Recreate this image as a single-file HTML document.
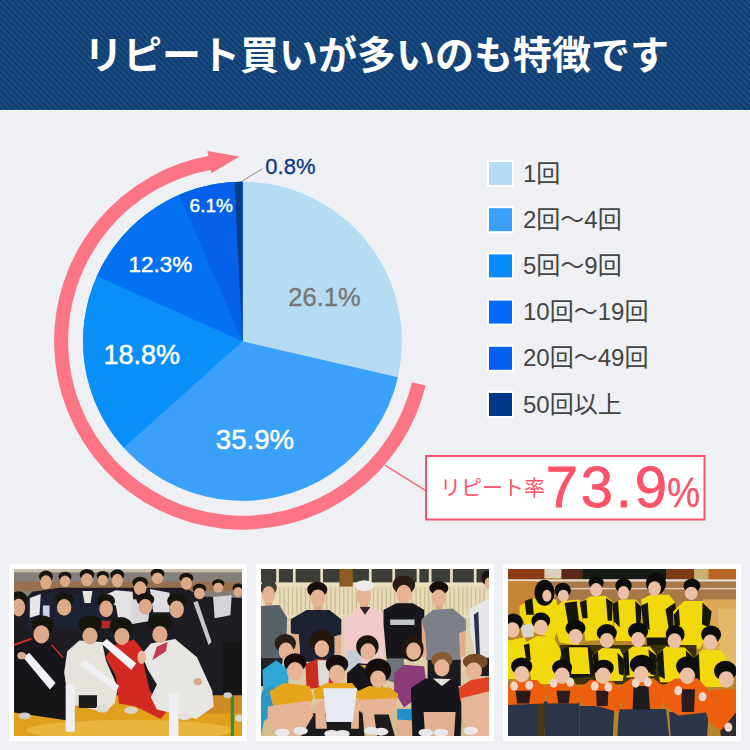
<!DOCTYPE html>
<html lang="ja"><head><meta charset="utf-8"><title>リピート買いが多いのも特徴です</title>
<style>
html,body{margin:0;padding:0}
body{width:750px;height:750px;overflow:hidden;background:#EEF0F4;font-family:"Liberation Sans","Noto Sans CJK JP",sans-serif;position:relative}
#hd{position:absolute;left:0;top:0;width:750px;height:110px;border-bottom:1px solid #FAFBFC;background:repeating-linear-gradient(45deg,#0F3E74 0,#0F3E74 2.12px,#1A4A7E 2.12px,#1A4A7E 4.243px)}
#hd h1{position:absolute;left:84px;top:34px;width:588px;height:44px;margin:0;font-size:39px;line-height:44px;font-weight:bold;color:#fff;white-space:nowrap;overflow:hidden;font-family:"Liberation Sans","Noto Sans CJK JP",sans-serif}
svg{position:absolute;left:0;top:0}
.t{position:absolute;white-space:nowrap;line-height:1;color:#fff}
ul.lg{position:absolute;left:523px;top:0;margin:0;padding:0;list-style:none}
ul.lg li{position:absolute;left:0;width:135px;height:26px;font-size:24px;line-height:26px;color:#444;white-space:nowrap;overflow:hidden;font-family:"Liberation Sans","Noto Sans CJK JP",sans-serif}
.cl{position:absolute;left:440px;top:475px;width:105px;height:26px;font-size:21px;line-height:26px;color:#FB5369;white-space:nowrap;overflow:hidden;font-family:"Liberation Sans","Noto Sans CJK JP",sans-serif}
.ph{position:absolute;top:564px;width:238px;height:177px;background:#fff}
.ph svg{left:5px;top:5px}
</style></head><body>
<div id="hd"><h1>リピート買いが多いのも特徴です</h1></div>
<svg width="750" height="750" viewBox="0 0 750 750" role="img" aria-label="リピート率のグラフ">
<circle cx="242.5" cy="341.3" r="159.5" fill="#B5DCF2"/><path d="M242.5 341.3L397.91 377.18A159.5 159.5 0 1 1 242.50 181.80Z" fill="#3AA0FA"/><path d="M242.5 341.3L123.78 447.82A159.5 159.5 0 0 1 242.50 181.80Z" fill="#0890F8"/><path d="M242.5 341.3L96.90 276.17A159.5 159.5 0 0 1 242.50 181.80Z" fill="#0470F2"/><path d="M242.5 341.3L179.15 194.92A159.5 159.5 0 0 1 242.50 181.80Z" fill="#0562E8"/><path d="M242.5 341.3L234.43 182.00A159.5 159.5 0 0 1 242.50 181.80Z" fill="#053C8C"/>
<path d="M418.81 383.95A181.4 181.4 0 1 1 211.94 162.49" fill="none" stroke="#FB7585" stroke-width="14"/><polygon points="207.4,151.0 239.4,156.6 211.4,173.2" fill="#FB7585"/>
<line x1="242.6" y1="180.8" x2="262.3" y2="168.7" stroke="#888" stroke-width="1"/>
<rect x="488" y="161.0" width="25" height="25" fill="#B5DCF2" stroke="#fff" stroke-width="2"/><rect x="488" y="207.2" width="25" height="25" fill="#3AA0FA" stroke="#fff" stroke-width="2"/><rect x="488" y="253.4" width="25" height="25" fill="#088CFA" stroke="#fff" stroke-width="2"/><rect x="488" y="299.6" width="25" height="25" fill="#0569FA" stroke="#fff" stroke-width="2"/><rect x="488" y="345.8" width="25" height="25" fill="#0560F0" stroke="#fff" stroke-width="2"/><rect x="488" y="392.0" width="25" height="25" fill="#00388C" stroke="#fff" stroke-width="2"/>
<line x1="385.2" y1="465.3" x2="425.5" y2="490.3" stroke="#FA6478" stroke-width="1.4"/><rect x="426" y="456" width="278.5" height="63.5" fill="#fff" stroke="#FB5369" stroke-width="2"/>
</svg>
<div class="t" style="left:288.3px;top:284.6px;font-size:25.5px;color:#777;-webkit-text-stroke:0.4px #777">26.1%</div>
<div class="t" style="left:215.8px;top:426px;font-size:27.6px;-webkit-text-stroke:0.5px #fff">35.9%</div>
<div class="t" style="left:103.5px;top:342px;font-size:27px;-webkit-text-stroke:0.5px #fff">18.8%</div>
<div class="t" style="left:128.5px;top:254.4px;font-size:22.5px;-webkit-text-stroke:0.45px #fff">12.3%</div>
<div class="t" style="left:189.6px;top:195.5px;font-size:19px;-webkit-text-stroke:0.4px #fff">6.1%</div>
<div class="t" style="left:265.3px;top:155.6px;font-size:22px;color:#0B3A82;-webkit-text-stroke:0.3px #0B3A82">0.8%</div>
<ul class="lg">
<li style="top:161px">1回</li>
<li style="top:207px">2回〜4回</li>
<li style="top:253px">5回〜9回</li>
<li style="top:299px">10回〜19回</li>
<li style="top:345px">20回〜49回</li>
<li style="top:392px">50回以上</li>
</ul>
<div class="cl">リピート率</div>
<div class="t" style="left:545.7px;top:458px;font-size:58px;letter-spacing:2.8px;color:#FB5369;-webkit-text-stroke:0.8px #FB5369">73.9</div>
<div class="t" style="left:667.2px;top:470.5px;font-size:43px;color:#FB5369;-webkit-text-stroke:0.3px #FB5369;transform:scaleX(0.865);transform-origin:0 0">%</div>
<div class="ph" style="left:9px"><svg width="228" height="167" viewBox="0 0 750 549" preserveAspectRatio="none"><defs><filter id="pb1" x="-5%" y="-5%" width="110%" height="110%"><feGaussianBlur stdDeviation="2.6"/></filter></defs><rect width="750" height="549" fill="#333"/><g filter="url(#pb1)"><rect x="0" y="0" width="750" height="110" fill="#86807a"/><rect x="0" y="0" width="750" height="11" fill="#c8bda6"/><rect x="0" y="42" width="750" height="30" fill="#98704f"/><rect x="0" y="400" width="750" height="149" fill="#e0a01e"/><ellipse cx="380" cy="530" rx="340" ry="34" fill="#eab53c"/><rect x="560" y="405" width="190" height="70" fill="#d08a20"/><rect x="713" y="415" width="11" height="134" fill="#3f8a3c"/><polygon points="0,120 40,95 60,75 150,62 560,62 620,90 750,95 750,415 0,415" fill="#1c1c20"/><polygon points="45,100 140,70 205,80 280,70 300,100 300,200 45,200" fill="#1b2030"/><polygon points="52,95 88,82 84,150 52,160" fill="#e6e6e6"/><rect x="95" y="120" width="22" height="42" fill="#c9d3e6"/><polygon points="225,72 258,72 252,112 232,112" fill="#e8e6e0"/><polygon points="300,85 335,70 390,75 398,175 345,175 335,120 300,110" fill="#e2e2e4"/><polygon points="385,100 448,98 442,172 385,182" fill="#d8d8dc"/><polygon points="447,66 512,78 512,142 458,142" fill="#dedee2"/><polygon points="655,92 716,86 712,152 660,162" fill="#d6d6da"/><polygon points="590,110 604,105 650,240 640,250" fill="#c8c8cc"/><ellipse cx="105" cy="25" rx="23.0" ry="19.8" fill="#17140f"/><ellipse cx="105" cy="43.7" rx="18.5" ry="23.1" fill="#dcaa88"/><ellipse cx="168" cy="25" rx="21.16" ry="16.2" fill="#17140f"/><ellipse cx="168" cy="40.3" rx="17.02" ry="18.900000000000002" fill="#dcaa88"/><ellipse cx="240" cy="18" rx="23.92" ry="18.0" fill="#17140f"/><ellipse cx="240" cy="35.0" rx="19.24" ry="21.0" fill="#dcaa88"/><ellipse cx="292" cy="22" rx="20.240000000000002" ry="15.3" fill="#17140f"/><ellipse cx="292" cy="36.45" rx="16.28" ry="17.85" fill="#dcaa88"/><ellipse cx="340" cy="20" rx="23.0" ry="18.900000000000002" fill="#17140f"/><ellipse cx="340" cy="37.849999999999994" rx="18.5" ry="22.05" fill="#dcaa88"/><ellipse cx="415" cy="45" rx="25.76" ry="19.8" fill="#17140f"/><ellipse cx="415" cy="63.7" rx="20.72" ry="23.1" fill="#dcaa88"/><ellipse cx="472" cy="15" rx="23.0" ry="16.2" fill="#17140f"/><ellipse cx="472" cy="30.299999999999997" rx="18.5" ry="18.900000000000002" fill="#dcaa88"/><ellipse cx="567" cy="30" rx="23.0" ry="18.0" fill="#17140f"/><ellipse cx="567" cy="47.0" rx="18.5" ry="21.0" fill="#dcaa88"/><ellipse cx="610" cy="65" rx="22.080000000000002" ry="16.2" fill="#17140f"/><ellipse cx="610" cy="80.3" rx="17.759999999999998" ry="18.900000000000002" fill="#dcaa88"/><ellipse cx="672" cy="48" rx="20.240000000000002" ry="14.4" fill="#17140f"/><ellipse cx="672" cy="61.6" rx="16.28" ry="16.8" fill="#dcaa88"/><ellipse cx="737" cy="62" rx="18.400000000000002" ry="14.4" fill="#17140f"/><ellipse cx="737" cy="75.6" rx="14.8" ry="16.8" fill="#dcaa88"/><ellipse cx="15" cy="98" rx="28.5" ry="24.84" fill="#17140f"/><ellipse cx="15" cy="126.35" rx="21.599999999999998" ry="29.700000000000003" fill="#dcaa88"/><ellipse cx="165" cy="100" rx="31.349999999999998" ry="23.0" fill="#17140f"/><ellipse cx="165" cy="126.25" rx="23.759999999999998" ry="27.500000000000004" fill="#dcaa88"/><ellipse cx="303" cy="105" rx="29.45" ry="23.0" fill="#17140f"/><ellipse cx="303" cy="131.25" rx="22.32" ry="27.500000000000004" fill="#dcaa88"/><ellipse cx="432" cy="100" rx="29.45" ry="21.16" fill="#17140f"/><ellipse cx="432" cy="124.15" rx="22.32" ry="25.3" fill="#dcaa88"/><ellipse cx="535" cy="105" rx="31.349999999999998" ry="23.92" fill="#17140f"/><ellipse cx="535" cy="132.3" rx="23.759999999999998" ry="28.6" fill="#dcaa88"/><polygon points="275,170 330,170 320,195 285,195" fill="#b02a28"/><polygon points="0,250 60,225 130,245 168,300 168,400 0,400" fill="#15151a"/><polygon points="0,360 172,400 172,497 0,472" fill="#131318"/><line x1="0" y1="250" x2="55" y2="230" stroke="#c8302a" stroke-width="7" stroke-linecap="round"/><line x1="125" y1="250" x2="160" y2="290" stroke="#c8302a" stroke-width="5" stroke-linecap="round"/><ellipse cx="35" cy="483" rx="20" ry="11" fill="#cfcfcf"/><polygon points="175,270 215,235 290,240 302,300 342,390 332,440 300,472 180,442 165,340" fill="#e6e2dc"/><rect x="213" y="415" width="60" height="42" fill="#1b1b1b"/><polygon points="300,290 330,250 395,232 420,262 430,330 447,400 502,470 482,492 400,452 345,442 335,350" fill="#d22a20"/><polygon points="420,280 450,245 530,230 602,290 652,400 657,452 600,492 470,462 450,422 470,380 440,330" fill="#e8e6e2"/><ellipse cx="385" cy="465" rx="22" ry="12" fill="#d8d4cc"/><ellipse cx="290" cy="460" rx="22" ry="12" fill="#dedad4"/><ellipse cx="560" cy="485" rx="24" ry="12" fill="#e4e0da"/><polygon points="455,300 500,270 505,240 470,255" fill="#c23a52"/><polygon points="30,290 50,275 137,375 118,396" fill="#f2f2f6"/><polygon points="287,245 305,230 402,310 386,332" fill="#f4f4f8"/><polygon points="215,312 236,300 346,385 335,402" fill="#f0f0f4"/><rect x="170" y="380" width="30" height="155" fill="#f0f0f4"/><rect x="510" y="410" width="31" height="139" fill="#f0f0f4"/><ellipse cx="95" cy="182" rx="36" ry="29" fill="#17140f"/><ellipse cx="90" cy="215" rx="26" ry="30" fill="#dcaa88"/><ellipse cx="250" cy="182" rx="39" ry="29" fill="#17140f"/><ellipse cx="250" cy="220" rx="25" ry="28" fill="#dcaa88"/><ellipse cx="352" cy="187" rx="37" ry="29" fill="#17140f"/><ellipse cx="355" cy="222" rx="25" ry="28" fill="#dcaa88"/><ellipse cx="480" cy="177" rx="39" ry="29" fill="#17140f"/><ellipse cx="480" cy="215" rx="25" ry="28" fill="#dcaa88"/><ellipse cx="420" cy="290" rx="14" ry="22" fill="#e6b898"/><ellipse cx="25" cy="285" rx="14" ry="12" fill="#dcaa88"/><ellipse cx="605" cy="370" rx="14" ry="12" fill="#dcaa88"/><rect x="690" y="240" width="60" height="170" fill="#141414"/><ellipse cx="703" cy="415" rx="14" ry="10" fill="#cfcfcf"/><ellipse cx="740" cy="490" rx="12" ry="12" fill="#d8d8d8"/></g></svg></div>
<div class="ph" style="left:256px"><svg width="228" height="167" viewBox="0 0 750 549" preserveAspectRatio="none"><defs><filter id="pb2" x="-5%" y="-5%" width="110%" height="110%"><feGaussianBlur stdDeviation="2.6"/></filter></defs><rect width="750" height="549" fill="#333"/><g filter="url(#pb2)"><rect x="0" y="0" width="750" height="549" fill="#dccaa4"/><rect x="0" y="0" width="750" height="46" fill="#3d3e38"/><rect x="50" y="0" width="9" height="48" fill="#e6dcc0"/><rect x="105" y="0" width="9" height="48" fill="#e6dcc0"/><rect x="195" y="0" width="9" height="48" fill="#e6dcc0"/><rect x="355" y="0" width="9" height="48" fill="#e6dcc0"/><rect x="432" y="0" width="9" height="48" fill="#e6dcc0"/><rect x="512" y="0" width="9" height="48" fill="#e6dcc0"/><rect x="552" y="0" width="9" height="48" fill="#e6dcc0"/><rect x="622" y="0" width="9" height="48" fill="#e6dcc0"/><rect x="700" y="0" width="9" height="48" fill="#e6dcc0"/><rect x="0" y="44" width="750" height="14" fill="#eadfbe"/><rect x="258" y="0" width="44" height="105" fill="#8c5c22"/><rect x="0" y="58" width="750" height="100" fill="#e6dab8"/><rect x="60" y="62" width="4" height="92" fill="#cdbd96"/><rect x="74" y="62" width="4" height="92" fill="#cdbd96"/><rect x="88" y="62" width="4" height="92" fill="#cdbd96"/><rect x="102" y="62" width="4" height="92" fill="#cdbd96"/><rect x="116" y="62" width="4" height="92" fill="#cdbd96"/><rect x="130" y="62" width="4" height="92" fill="#cdbd96"/><rect x="144" y="62" width="4" height="92" fill="#cdbd96"/><rect x="158" y="62" width="4" height="92" fill="#cdbd96"/><rect x="172" y="62" width="4" height="92" fill="#cdbd96"/><rect x="186" y="62" width="4" height="92" fill="#cdbd96"/><rect x="200" y="62" width="4" height="92" fill="#cdbd96"/><rect x="214" y="62" width="4" height="92" fill="#cdbd96"/><rect x="228" y="62" width="4" height="92" fill="#cdbd96"/><rect x="242" y="62" width="4" height="92" fill="#cdbd96"/><rect x="256" y="62" width="4" height="92" fill="#cdbd96"/><rect x="270" y="62" width="4" height="92" fill="#cdbd96"/><rect x="284" y="62" width="4" height="92" fill="#cdbd96"/><rect x="298" y="62" width="4" height="92" fill="#cdbd96"/><rect x="312" y="62" width="4" height="92" fill="#cdbd96"/><rect x="326" y="62" width="4" height="92" fill="#cdbd96"/><rect x="340" y="62" width="4" height="92" fill="#cdbd96"/><rect x="354" y="62" width="4" height="92" fill="#cdbd96"/><rect x="368" y="62" width="4" height="92" fill="#cdbd96"/><rect x="382" y="62" width="4" height="92" fill="#cdbd96"/><rect x="396" y="62" width="4" height="92" fill="#cdbd96"/><rect x="410" y="62" width="4" height="92" fill="#cdbd96"/><rect x="424" y="62" width="4" height="92" fill="#cdbd96"/><rect x="438" y="62" width="4" height="92" fill="#cdbd96"/><rect x="452" y="62" width="4" height="92" fill="#cdbd96"/><rect x="466" y="62" width="4" height="92" fill="#cdbd96"/><rect x="480" y="62" width="4" height="92" fill="#cdbd96"/><rect x="494" y="62" width="4" height="92" fill="#cdbd96"/><rect x="508" y="62" width="4" height="92" fill="#cdbd96"/><rect x="522" y="62" width="4" height="92" fill="#cdbd96"/><rect x="536" y="62" width="4" height="92" fill="#cdbd96"/><rect x="550" y="62" width="4" height="92" fill="#cdbd96"/><rect x="564" y="62" width="4" height="92" fill="#cdbd96"/><rect x="578" y="62" width="4" height="92" fill="#cdbd96"/><rect x="592" y="62" width="4" height="92" fill="#cdbd96"/><rect x="606" y="62" width="4" height="92" fill="#cdbd96"/><rect x="620" y="62" width="4" height="92" fill="#cdbd96"/><rect x="634" y="62" width="4" height="92" fill="#cdbd96"/><rect x="648" y="62" width="4" height="92" fill="#cdbd96"/><rect x="662" y="62" width="4" height="92" fill="#cdbd96"/><rect x="676" y="62" width="4" height="92" fill="#cdbd96"/><rect x="690" y="62" width="4" height="92" fill="#cdbd96"/><rect x="704" y="62" width="4" height="92" fill="#cdbd96"/><rect x="718" y="62" width="4" height="92" fill="#cdbd96"/><rect x="732" y="62" width="4" height="92" fill="#cdbd96"/><rect x="0" y="150" width="750" height="12" fill="#e8dcb8"/><rect x="0" y="162" width="750" height="180" fill="#dfd0ac"/><rect x="0" y="455" width="750" height="94" fill="#d4bc8c"/><rect x="13" y="102" width="24" height="26" fill="#dca888"/><rect x="175" y="114" width="24" height="26" fill="#dca888"/><rect x="328" y="108" width="24" height="26" fill="#dca888"/><rect x="458" y="98" width="24" height="26" fill="#dca888"/><rect x="573" y="112" width="24" height="26" fill="#dca888"/><polygon points="0,122 60,118 86,160 82,292 0,292" fill="#596068"/><polygon points="0,292 72,292 62,385 0,385" fill="#202228"/><ellipse cx="25" cy="62" rx="27" ry="26" fill="#3c3a38"/><ellipse cx="25" cy="85" rx="21" ry="29" fill="#e6b494"/><polygon points="98,165 150,135 225,135 264,165 264,215 242,222 242,305 130,305 124,215 98,212" fill="#1b2132"/><polygon points="98,212 124,215 130,300 112,300" fill="#e0ac8c"/><polygon points="242,222 264,215 262,280 245,280" fill="#e0ac8c"/><ellipse cx="185" cy="68" rx="33" ry="26" fill="#14110e"/><ellipse cx="187" cy="95" rx="25" ry="28" fill="#e6b494"/><polygon points="273,165 320,125 365,125 417,160 420,262 402,272 397,335 285,335 273,262" fill="#f2caca"/><polygon points="325,125 360,125 342,150" fill="#2a2428"/><polygon points="283,268 332,268 330,335 285,335" fill="#c4ccd6"/><ellipse cx="338" cy="90" rx="24" ry="28" fill="#e6b494"/><ellipse cx="340" cy="55" rx="31" ry="18" fill="#ececec"/><polygon points="403,135 445,113 500,113 537,135 537,182 522,295 413,295 403,182" fill="#14171b"/><rect x="425" y="166" width="80" height="18" fill="#c4c8c8"/><polygon points="413,295 470,295 470,385 413,365" fill="#6e747a"/><ellipse cx="470" cy="52" rx="37" ry="31" fill="#2a1c14"/><ellipse cx="470" cy="82" rx="25" ry="30" fill="#e6b494"/><polygon points="528,165 565,135 630,130 674,165 674,202 652,212 657,298 543,298 538,212" fill="#7b8189"/><polygon points="528,165 540,212 546,290 530,290" fill="#e0ac8c"/><polygon points="674,202 652,212 655,290 672,285" fill="#e0ac8c"/><polygon points="548,298 657,298 657,385 548,385" fill="#1a1a1e"/><ellipse cx="585" cy="63" rx="31" ry="23" fill="#14110e"/><ellipse cx="585" cy="95" rx="24" ry="28" fill="#e6b494"/><polygon points="688,130 750,98 750,292 706,292 688,200" fill="#e6e6ea"/><polygon points="700,150 715,140 720,280 708,285" fill="#2a3048"/><ellipse cx="745" cy="30" rx="20" ry="24" fill="#1a1612"/><ellipse cx="748" cy="48" rx="12" ry="20" fill="#e6b494"/><rect x="700" y="292" width="50" height="60" fill="#1c1c22"/><polygon points="5,332 50,300 92,332 88,402 62,465 10,465" fill="#2fa6d6"/><polygon points="5,400 40,380 60,465 10,500 0,549 0,420" fill="#2a96c6"/><ellipse cx="80" cy="245" rx="35" ry="31" fill="#2a1a12"/><ellipse cx="82" cy="270" rx="24" ry="28" fill="#e6b494"/><polygon points="146,312 185,295 232,300 238,385 150,395" fill="#c62e20"/><polygon points="186,300 226,300 222,385 190,385" fill="#dedad6"/><ellipse cx="200" cy="240" rx="40" ry="40" fill="#20140e"/><ellipse cx="200" cy="262" rx="24" ry="28" fill="#e6b494"/><polygon points="283,342 320,310 387,315 402,405 283,405" fill="#15151a"/><polygon points="325,315 380,318 352,335" fill="#d8a820"/><ellipse cx="350" cy="255" rx="37" ry="37" fill="#1a1410"/><ellipse cx="352" cy="272" rx="25" ry="28" fill="#e6b494"/><polygon points="438,342 470,315 537,320 547,402 470,455 438,402" fill="#8a3a78"/><ellipse cx="500" cy="262" rx="35" ry="42" fill="#2a1810"/><ellipse cx="502" cy="270" rx="24" ry="28" fill="#e6b494"/><polygon points="448,460 502,460 502,502 448,497" fill="#2090c8"/><polygon points="445,495 502,498 502,549 450,549" fill="#e2b090"/><polygon points="493,392 540,360 642,365 662,422 657,549 498,549" fill="#18181c"/><polygon points="565,360 625,362 595,385" fill="#e4e0dc"/><polygon points="535,470 640,470 635,549 540,549" fill="#e2b090"/><ellipse cx="595" cy="300" rx="35" ry="27" fill="#8a5a30"/><ellipse cx="595" cy="325" rx="25" ry="28" fill="#e6b494"/><polygon points="650,392 690,365 750,355 750,425 655,435" fill="#e24222"/><polygon points="658,425 750,402 750,549 690,549 660,485" fill="#e6b696"/><ellipse cx="705" cy="305" rx="41" ry="26" fill="#7a4a28"/><ellipse cx="700" cy="335" rx="27" ry="28" fill="#e6b494"/><polygon points="85,478 335,468 340,549 85,549" fill="#1a1a1c"/><polygon points="28,402 75,375 160,385 172,422 162,442 40,452" fill="#e6a61e"/><polygon points="22,452 160,432 172,482 132,549 58,549 22,502" fill="#e6b494"/><ellipse cx="112" cy="308" rx="37" ry="31" fill="#15110e"/><ellipse cx="112" cy="336" rx="27" ry="30" fill="#e6b494"/><polygon points="173,397 215,375 300,375 322,402 320,424 178,428" fill="#e6a61e"/><polygon points="178,440 207,430 217,525 180,525" fill="#e6b494"/><polygon points="300,432 322,430 322,525 296,525" fill="#e6b494"/><polygon points="205,392 316,392 302,503 215,503" fill="#e6eaf2"/><ellipse cx="250" cy="313" rx="37" ry="31" fill="#15110e"/><ellipse cx="250" cy="345" rx="27" ry="30" fill="#e6b494"/><polygon points="318,402 355,385 425,390 452,412 442,442 323,442" fill="#e6a61e"/><polygon points="323,430 447,425 442,472 328,472" fill="#e6b494"/><polygon points="333,472 432,472 422,535 343,535" fill="#e6b494"/><polygon points="372,478 420,478 440,549 382,549" fill="#1a1a1c"/><ellipse cx="385" cy="335" rx="43" ry="41" fill="#15110e"/><ellipse cx="385" cy="362" rx="26" ry="28" fill="#e6b494"/><ellipse cx="70" cy="538" rx="24" ry="13" fill="#e8e8e8"/><ellipse cx="130" cy="532" rx="24" ry="13" fill="#e8e8e8"/><ellipse cx="232" cy="542" rx="24" ry="13" fill="#e8e8e8"/><ellipse cx="268" cy="542" rx="24" ry="13" fill="#e8e8e8"/><ellipse cx="362" cy="532" rx="24" ry="13" fill="#e8e8e8"/><ellipse cx="395" cy="535" rx="24" ry="13" fill="#e8e8e8"/><ellipse cx="542" cy="538" rx="24" ry="13" fill="#e8e8e8"/><ellipse cx="592" cy="538" rx="24" ry="13" fill="#e8e8e8"/><ellipse cx="690" cy="532" rx="24" ry="13" fill="#e8e8e8"/></g></svg></div>
<div class="ph" style="left:503px"><svg width="228" height="167" viewBox="0 0 750 549" preserveAspectRatio="none"><defs><filter id="pb3" x="-5%" y="-5%" width="110%" height="110%"><feGaussianBlur stdDeviation="2.6"/></filter></defs><rect width="750" height="549" fill="#333"/><g filter="url(#pb3)"><rect x="0" y="0" width="750" height="549" fill="#b8862c"/><rect x="0" y="0" width="120" height="36" fill="#8a3a18"/><rect x="120" y="0" width="56" height="30" fill="#d8d0b8"/><rect x="176" y="0" width="70" height="36" fill="#5a2a18"/><rect x="245" y="0" width="275" height="40" fill="#141c18"/><rect x="520" y="0" width="95" height="36" fill="#7a3a14"/><rect x="612" y="0" width="48" height="36" fill="#c8b070"/><rect x="660" y="0" width="90" height="36" fill="#b86820"/><rect x="0" y="34" width="750" height="80" fill="#a8784a"/><rect x="0" y="34" width="750" height="7" fill="#e6ded6"/><rect x="0" y="62" width="750" height="5" fill="#d8c8b8"/><rect x="0" y="40" width="90" height="100" fill="#c88434"/><polygon points="640,100 750,100 750,340 640,340" fill="#dba654"/><polygon points="690,130 750,130 750,330 700,330" fill="#e2b868"/><polygon points="38,122 95,90 160,100 167,190 152,232 70,202 38,152" fill="#f2d90f"/><polygon points="55,105 80,95 85,150 60,150" fill="#17160f"/><polygon points="150,130 180,105 237,100 247,190 232,252 170,242 150,180" fill="#f2d90f"/><polygon points="186,112 226,106 236,192 200,192" fill="#17160f"/><polygon points="236,110 270,90 320,88 347,110 342,232 255,237 245,160" fill="#f2d90f"/><polygon points="236,110 258,100 262,162 245,162" fill="#17160f"/><polygon points="322,95 345,110 342,170 328,170" fill="#17160f"/><polygon points="343,115 370,100 420,100 442,125 432,237 355,237" fill="#f2d90f"/><polygon points="343,115 362,105 368,192 348,172" fill="#17160f"/><polygon points="418,105 440,125 436,180 422,180" fill="#17160f"/><polygon points="438,100 470,85 530,85 550,110 532,227 455,227" fill="#f2d90f"/><polygon points="438,120 460,110 466,202 445,182" fill="#17160f"/><polygon points="518,132 550,110 557,172 530,202" fill="#17160f"/><polygon points="455,225 532,225 527,275 460,275" fill="#17160f"/><polygon points="543,140 580,105 640,105 670,140 662,192 632,262 570,262 545,192" fill="#f2d90f"/><polygon points="640,110 670,140 662,192 638,182" fill="#17160f"/><polygon points="545,150 562,130 566,185 548,190" fill="#17160f"/><ellipse cx="120" cy="78" rx="33" ry="43" fill="#0f0d0a"/><ellipse cx="128" cy="88" rx="15" ry="20" fill="#ecc0a4"/><ellipse cx="180" cy="70" rx="27" ry="25" fill="#0f0d0a"/><ellipse cx="182" cy="88" rx="18" ry="20" fill="#ecc0a4"/><ellipse cx="290" cy="45" rx="25" ry="23" fill="#0f0d0a"/><ellipse cx="290" cy="68" rx="20" ry="22" fill="#ecc0a4"/><ellipse cx="380" cy="55" rx="27" ry="25" fill="#0f0d0a"/><ellipse cx="380" cy="78" rx="19" ry="22" fill="#ecc0a4"/><ellipse cx="487" cy="47" rx="33" ry="37" fill="#0f0d0a"/><ellipse cx="482" cy="64" rx="21" ry="24" fill="#ecc0a4"/><ellipse cx="605" cy="55" rx="28" ry="23" fill="#0f0d0a"/><ellipse cx="603" cy="80" rx="21" ry="22" fill="#ecc0a4"/><polygon points="170,250 620,250 620,380 170,380" fill="#3a3210"/><polygon points="40,185 80,180 86,222 50,226" fill="#d6d6ce"/><polygon points="0,235 55,225 76,282 62,362 0,362" fill="#f2d90f"/><polygon points="58,242 95,220 150,225 177,272 162,332 152,378 80,378 64,302" fill="#f2d90f"/><polygon points="52,250 70,245 75,300 60,300" fill="#17160f"/><polygon points="173,267 210,250 267,255 292,292 282,352 190,362" fill="#17160f"/><polygon points="200,257 262,257 270,345 208,345" fill="#f2d90f"/><polygon points="278,282 310,260 367,262 387,302 377,368 290,368" fill="#f2d90f"/><polygon points="278,282 296,270 300,340 285,340" fill="#17160f"/><polygon points="360,275 387,302 380,350 365,345" fill="#17160f"/><polygon points="378,277 410,255 467,255 492,287 482,352 390,357" fill="#f2d90f"/><polygon points="378,277 396,265 400,350 386,350" fill="#17160f"/><polygon points="462,265 492,287 484,350 468,345" fill="#17160f"/><polygon points="488,282 520,255 582,258 612,292 602,372 500,372" fill="#f2d90f"/><polygon points="488,282 510,265 516,362 496,352" fill="#17160f"/><polygon points="585,268 612,292 605,360 590,355" fill="#17160f"/><polygon points="610,292 640,265 702,268 724,302 717,388 625,388" fill="#f2d90f"/><polygon points="610,292 628,278 632,370 618,370" fill="#17160f"/><ellipse cx="18" cy="175" rx="31" ry="29" fill="#0f0d0a"/><ellipse cx="15" cy="200" rx="23" ry="25" fill="#ecc0a4"/><ellipse cx="108" cy="170" rx="31" ry="27" fill="#0f0d0a"/><ellipse cx="108" cy="192" rx="23" ry="25" fill="#ecc0a4"/><ellipse cx="222" cy="195" rx="33" ry="27" fill="#0f0d0a"/><ellipse cx="222" cy="222" rx="23" ry="25" fill="#ecc0a4"/><ellipse cx="325" cy="210" rx="33" ry="29" fill="#0f0d0a"/><ellipse cx="325" cy="235" rx="23" ry="25" fill="#ecc0a4"/><ellipse cx="428" cy="205" rx="33" ry="29" fill="#0f0d0a"/><ellipse cx="428" cy="232" rx="23" ry="25" fill="#ecc0a4"/><ellipse cx="550" cy="215" rx="31" ry="31" fill="#0f0d0a"/><ellipse cx="548" cy="236" rx="23" ry="25" fill="#ecc0a4"/><ellipse cx="668" cy="215" rx="33" ry="29" fill="#0f0d0a"/><ellipse cx="665" cy="240" rx="23" ry="25" fill="#ecc0a4"/><polygon points="0,440 100,440 95,549 0,549" fill="#2b3448"/><polygon points="115,435 235,435 235,549 120,549" fill="#2b3448"/><polygon points="235,450 350,450 345,549 235,549" fill="#2b3448"/><polygon points="365,460 520,460 530,549 360,549" fill="#2b3448"/><polygon points="530,470 660,470 655,549 535,549" fill="#2b3448"/><polygon points="690,470 750,470 750,549 700,549" fill="#2a2a30"/><polygon points="95,440 120,440 120,549 95,549" fill="#4a3818"/><polygon points="0,380 30,365 95,365 132,400 117,442 0,447" fill="#ee5e10"/><polygon points="25,400 75,400 70,442 30,442" fill="#2a1a1a"/><polygon points="123,385 150,370 215,370 242,395 232,442 130,442" fill="#ee5e10"/><polygon points="160,400 205,400 200,442 165,442" fill="#2a1a1a"/><polygon points="236,390 270,365 345,370 374,400 367,472 300,452 240,447" fill="#ee5e10"/><polygon points="290,400 330,400 328,450 292,450" fill="#2a1a1a"/><polygon points="368,385 405,360 480,360 517,390 507,457 375,462" fill="#ee5e10"/><polygon points="413,385 462,385 467,462 410,462" fill="#1e1a20"/><polygon points="508,385 550,360 625,360 662,400 652,472 560,482 515,452" fill="#ee5e10"/><polygon points="570,395 615,395 612,470 572,470" fill="#2a1a1a"/><polygon points="638,420 680,395 750,395 750,472 700,532 660,502" fill="#ee5e10"/><ellipse cx="45" cy="320" rx="35" ry="29" fill="#0f0d0a"/><ellipse cx="45" cy="346" rx="25" ry="27" fill="#ecc0a4"/><ellipse cx="178" cy="325" rx="33" ry="27" fill="#0f0d0a"/><ellipse cx="178" cy="351" rx="25" ry="27" fill="#ecc0a4"/><ellipse cx="315" cy="325" rx="33" ry="27" fill="#0f0d0a"/><ellipse cx="313" cy="351" rx="25" ry="27" fill="#ecc0a4"/><ellipse cx="440" cy="315" rx="39" ry="33" fill="#0f0d0a"/><ellipse cx="438" cy="346" rx="25" ry="27" fill="#ecc0a4"/><ellipse cx="590" cy="320" rx="37" ry="33" fill="#0f0d0a"/><ellipse cx="590" cy="351" rx="25" ry="27" fill="#ecc0a4"/><ellipse cx="715" cy="335" rx="37" ry="33" fill="#0f0d0a"/><ellipse cx="718" cy="363" rx="25" ry="27" fill="#ecc0a4"/><ellipse cx="20" cy="385" rx="13" ry="15" fill="#f0d8c8"/><ellipse cx="70" cy="382" rx="13" ry="15" fill="#f0d8c8"/><ellipse cx="150" cy="375" rx="13" ry="15" fill="#f0d8c8"/><ellipse cx="205" cy="372" rx="13" ry="15" fill="#f0d8c8"/><ellipse cx="285" cy="385" rx="13" ry="15" fill="#f0d8c8"/><ellipse cx="330" cy="388" rx="13" ry="15" fill="#f0d8c8"/><ellipse cx="420" cy="375" rx="13" ry="15" fill="#f0d8c8"/><ellipse cx="460" cy="372" rx="13" ry="15" fill="#f0d8c8"/><ellipse cx="560" cy="400" rx="13" ry="15" fill="#f0d8c8"/><ellipse cx="640" cy="420" rx="13" ry="15" fill="#f0d8c8"/><ellipse cx="725" cy="520" rx="13" ry="15" fill="#f0d8c8"/></g></svg></div>
</body></html>
